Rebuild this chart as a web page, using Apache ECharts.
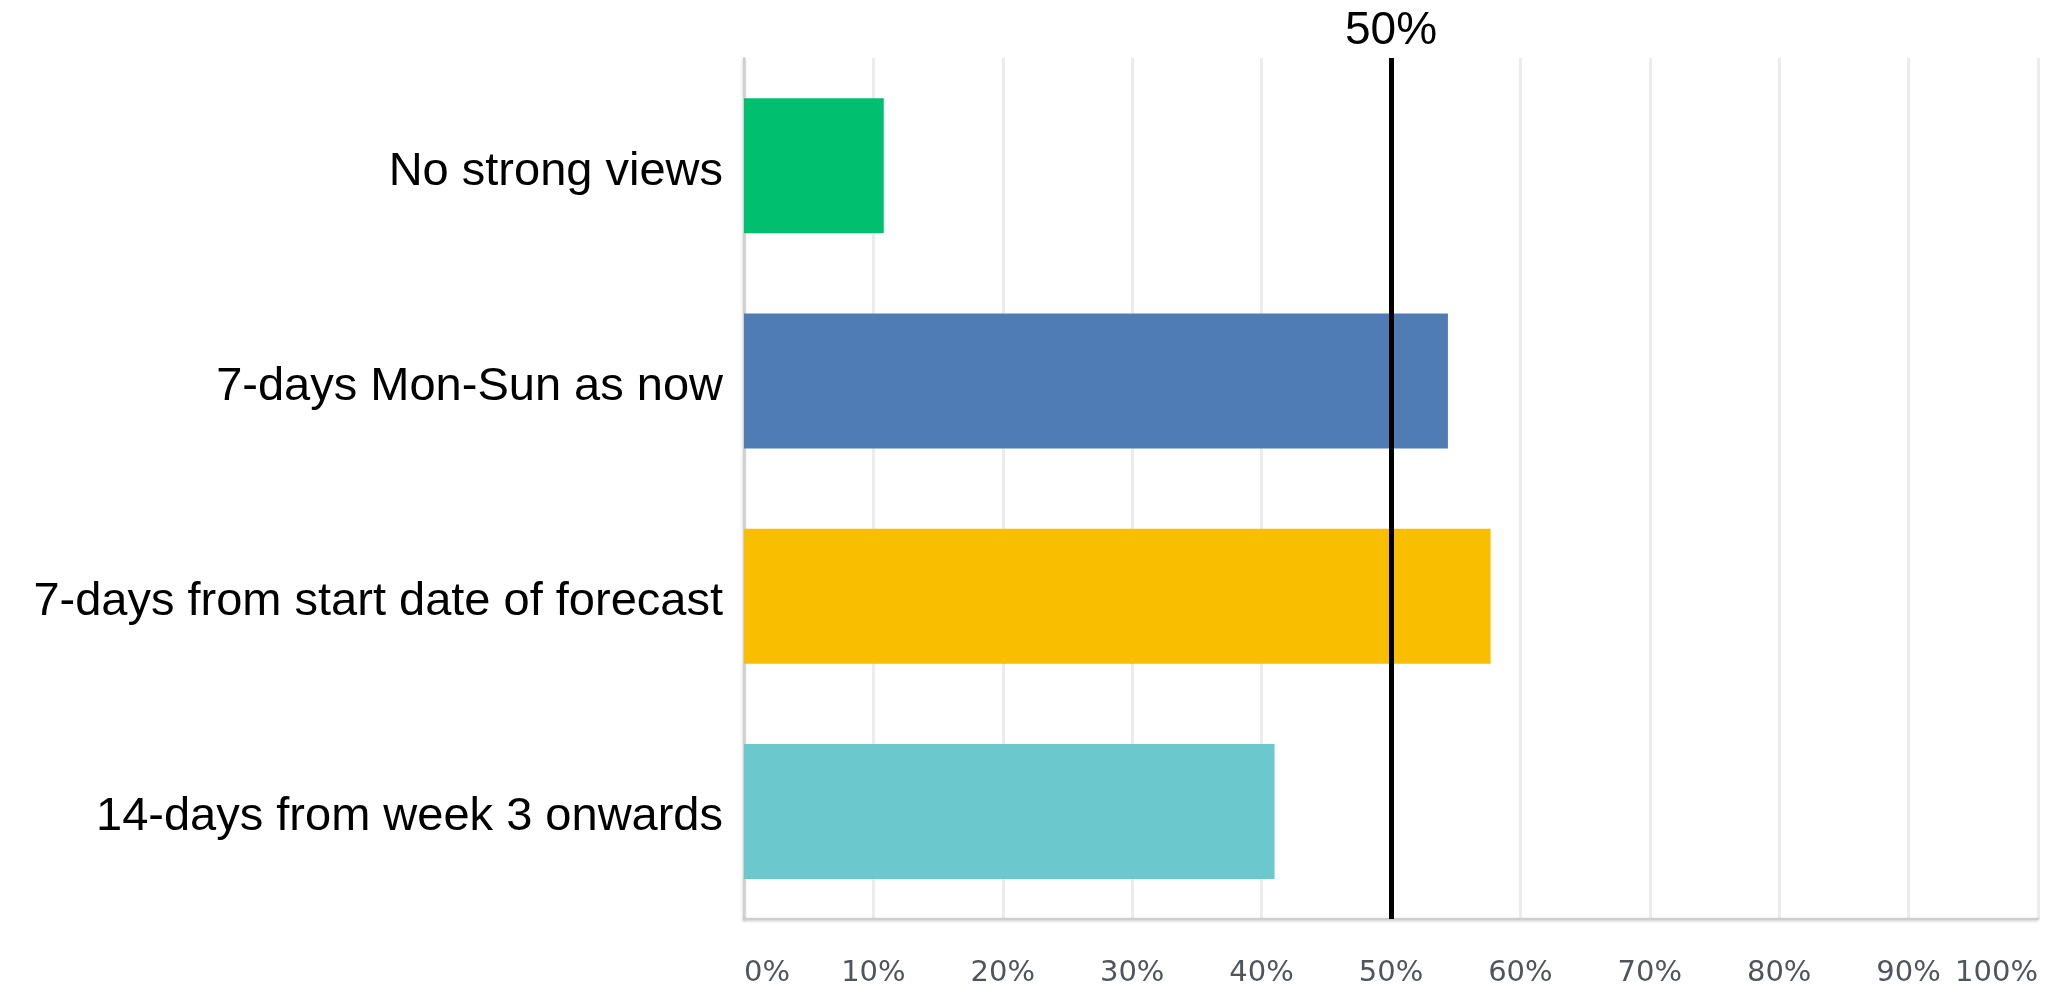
<!DOCTYPE html>
<html>
<head>
<meta charset="utf-8">
<title>Week definition preference</title>
<script src="https://cdn.jsdelivr.net/npm/echarts@6/dist/echarts.min.js"></script>
<style>
  html, body { margin: 0; padding: 0; background: #ffffff; }
  #chart { width: 2065px; height: 988px; }
</style>
</head>
<body>
<div id="chart"></div>
<script>
// Answer options, top to bottom
const categories = [
  'No strong views',
  '7-days Mon-Sun as now',
  '7-days from start date of forecast',
  '14-days from week 3 onwards'
];

// Share of respondents choosing each option (%)
const shares = [10.8, 54.4, 57.7, 41.0];

// Percentage axis ticks
const tickValues = [0, 10, 20, 30, 40, 50, 60, 70, 80, 90, 100];

// Reference line
const referenceValue = 50;
const referenceLabel = '50%';

// One colour per option
const barColors = ['#00BF6F', '#507CB6', '#F9BE00', '#6BC8CD'];

const chart = echarts.init(document.getElementById('chart'), null, { renderer: 'canvas' });

const axisLineStyle = {
  color: '#cfcfcf',
  width: 2,
  shadowColor: 'rgba(0,0,0,0.25)',
  shadowBlur: 3,
  shadowOffsetY: 1
};

chart.setOption({
  animation: false,
  backgroundColor: '#ffffff',
  grid: { left: 744, right: 27, top: 58, bottom: 66 },
  xAxis: {
    type: 'value',
    min: tickValues[0],
    max: tickValues[tickValues.length - 1],
    interval: tickValues[1] - tickValues[0],
    axisLine: { show: true, lineStyle: axisLineStyle },
    axisTick: { show: false },
    splitLine: { show: true, lineStyle: { color: '#ececec', width: 3 } },
    axisLabel: {
      formatter: v => v + '%',
      color: '#50555b',
      fontFamily: 'DejaVu Sans',
      fontSize: 29,
      margin: 40,
      alignMinLabel: 'left',
      alignMaxLabel: 'right'
    }
  },
  yAxis: {
    type: 'category',
    data: categories,
    inverse: true,
    axisLine: { show: true, lineStyle: axisLineStyle },
    axisTick: { show: false },
    axisLabel: {
      margin: 21,
      formatter: v => '{c|' + v + '}',
      rich: {
        c: {
          color: '#000000',
          fontFamily: 'Liberation Sans, Arial, sans-serif',
          fontSize: 47,
          lineHeight: 47,
          padding: [12, 0, 0, 0]
        }
      }
    }
  },
  series: [{
    type: 'bar',
    barWidth: 135,
    data: shares.map((v, i) => ({ value: v, itemStyle: { color: barColors[i] } })),
    markLine: {
      silent: true,
      symbol: 'none',
      lineStyle: { color: '#000000', width: 5, type: 'solid' },
      label: {
        show: true,
        position: 'start',
        formatter: referenceLabel,
        color: '#000000',
        fontFamily: 'Liberation Sans, Arial, sans-serif',
        fontSize: 46,
        distance: 4
      },
      data: [{ xAxis: referenceValue }]
    }
  }]
});
</script>
</body>
</html>
